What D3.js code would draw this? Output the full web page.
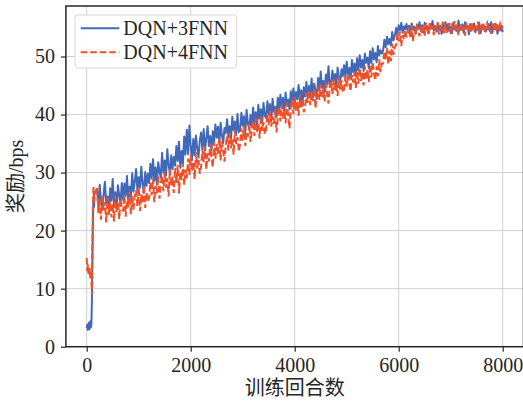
<!DOCTYPE html>
<html>
<head>
<meta charset="utf-8">
<script src="https://cdn.jsdelivr.net/npm/d3@7"></script>
<style>
  body { margin: 0; background: #fff; }
  svg { display: block; }
  text { font-family: "Liberation Serif", "Noto Sans CJK SC", serif; fill: #262626; }
</style>
</head>
<body>
<svg id="chart" width="523" height="401"></svg>
<script>
// --- data ---
const seriesNames = ["DQN+3FNN", "DQN+4FNN"];
const seriesColors = ["#4169b9", "#f24f27"];

// first 150 episodes (fine step)
const earlyEpisodes = [0,10,20,30,40,50,60,70,80,90,100,110,120,130,140,150];
const earlyDqn3 = [3.2,3.8,2.9,3.6,4.1,3.0,3.5,4.4,3.3,3.9,8.0,15.0,22.0,25.5,24.0,26.5];
const earlyDqn4 = [15.3,13.0,14.2,12.6,13.8,12.2,13.5,11.8,12.6,11.5,9.0,18.0,24.0,27.5,25.0,26.0];

// episodes 200..8000, every 25 (one row = 250 episodes)
const mainEpisodes = d3.range(200, 8001, 25);
const dqn3 = [
  26.8,24.1,27.9,25.0,23.6,26.2,28.4,24.8,25.9,23.8,
  27.3,25.2,28.9,24.4,26.6,23.9,27.8,26.1,24.7,28.2,
  25.3,28.1,26.0,29.4,24.9,27.6,25.8,29.9,26.7,28.5,
  30.6,26.9,29.2,27.4,31.0,28.0,26.5,30.1,27.7,29.8,
  28.2,31.5,29.0,32.3,28.6,30.9,27.9,31.8,30.2,29.1,
  33.4,30.0,32.1,29.5,34.0,31.3,29.9,33.0,30.6,32.7,
  31.2,34.6,32.0,35.3,30.8,33.7,31.5,36.2,33.1,37.4,
  33.2,38.1,34.5,32.1,35.8,33.0,36.4,34.2,32.6,35.5,
  36.9,34.0,37.5,33.8,35.9,38.0,34.6,36.3,33.9,37.1,
  35.2,38.3,36.0,37.9,34.8,38.6,36.4,35.1,37.7,36.8,
  39.2,36.1,38.0,35.9,39.6,37.3,38.8,36.5,40.1,37.0,
  37.2,40.3,38.1,39.7,36.9,40.8,38.4,37.6,39.9,38.0,
  41.2,38.5,40.4,38.0,41.7,39.3,40.9,38.6,42.0,39.8,
  39.4,42.3,40.1,41.8,39.0,42.7,40.5,41.3,39.6,42.9,
  40.6,43.4,41.2,42.9,40.3,43.8,41.5,42.6,40.9,44.0,
  42.1,44.5,41.8,43.9,42.6,45.1,42.2,44.2,41.9,44.7,
  43.1,45.6,42.8,44.9,43.5,46.2,43.0,45.3,44.1,42.7,
  46.3,44.1,47.4,44.6,45.8,43.9,46.9,45.2,48.3,44.8,
  45.1,47.6,45.8,47.0,44.9,48.1,46.3,45.5,47.8,46.6,
  48.5,46.4,49.1,46.9,48.0,46.2,49.4,47.3,48.8,46.7,
  49.7,47.6,50.2,48.1,49.4,47.5,50.5,48.9,49.8,48.0,
  50.9,48.9,51.4,49.5,50.6,49.0,51.8,50.2,51.1,50.5,
  51.0,52.9,51.6,53.4,52.1,53.0,51.9,54.2,52.8,53.6,
  54.9,53.8,55.4,54.5,55.8,54.1,55.2,54.7,55.6,54.3,
  55.3,54.2,55.7,54.6,55.1,53.9,55.5,54.8,55.9,54.4,
  55.4,54.1,55.8,54.7,55.2,54.0,55.6,54.9,56.1,54.5,
  55.0,54.3,55.7,54.6,55.3,53.9,55.5,54.8,55.9,54.2,
  55.6,54.4,55.1,54.0,55.8,54.7,55.2,54.3,56.2,54.9,
  54.6,55.5,54.1,55.9,54.8,55.3,53.8,55.6,54.5,55.1,
  55.7,54.2,55.0,54.6,55.8,54.0,55.4,54.9,55.2,54.3,
  54.8,55.6,54.4,55.9,54.1,55.3,54.7,55.5,53.9,55.2,
  54.5,55.3,54.2
];
const dqn4 = [
  27.6,23.0,25.4,21.9,26.2,23.5,24.9,21.4,25.8,22.7,
  25.1,22.3,24.6,21.6,26.0,23.2,24.8,22.0,25.5,23.9,
  23.3,26.1,22.4,25.2,24.0,26.7,22.8,25.9,23.6,26.3,
  26.9,24.2,27.5,23.4,26.3,24.8,27.9,23.9,26.6,25.0,
  25.6,28.3,26.1,29.0,24.9,27.7,26.4,29.4,25.5,28.1,
  29.5,26.8,30.2,27.4,29.0,25.9,30.6,27.8,29.3,26.5,
  30.8,28.2,31.3,26.4,30.1,28.7,31.6,27.9,30.5,29.0,
  32.4,29.6,33.1,30.2,31.8,28.9,33.5,30.7,32.2,29.8,
  31.0,34.0,31.8,34.6,30.5,33.3,31.9,35.0,32.6,30.9,
  35.2,32.4,34.9,33.0,36.0,32.1,35.4,33.7,31.9,34.8,
  36.4,33.8,36.9,34.2,35.7,33.1,37.2,34.9,36.1,33.6,
  35.0,37.6,35.5,38.1,34.6,37.0,36.2,38.4,35.3,37.3,
  38.9,36.3,39.4,36.8,38.5,35.9,39.8,37.2,38.7,36.6,
  37.5,40.1,38.2,40.6,37.9,39.7,38.4,41.0,36.9,39.5,
  41.3,38.8,41.7,39.3,40.9,38.5,42.0,39.9,37.6,41.2,
  42.5,40.1,43.0,40.6,42.2,39.8,43.4,41.0,42.7,40.4,
  41.3,43.8,42.0,44.2,41.6,43.5,42.3,44.6,41.1,43.9,
  44.8,42.5,45.2,43.0,44.5,42.2,45.6,43.4,41.9,44.9,
  45.7,43.5,46.1,44.0,45.4,43.2,46.5,44.3,45.9,43.8,
  44.3,46.6,44.8,47.0,45.2,44.0,46.8,45.5,47.2,44.6,
  47.5,45.3,48.0,45.8,47.2,45.0,48.3,46.1,47.7,45.6,
  48.6,46.4,49.1,47.0,45.9,48.3,46.6,49.5,47.3,48.8,
  48.8,50.9,49.4,51.5,48.6,51.0,49.2,52.2,50.3,51.6,
  52.0,53.9,52.6,54.3,51.8,53.7,52.9,54.6,53.3,54.0,
  55.0,53.1,55.4,52.6,54.8,53.8,55.6,54.2,53.5,55.2,
  54.1,55.5,53.6,55.8,54.6,53.9,55.9,54.4,55.3,53.7,
  55.4,54.2,55.9,53.8,55.1,54.7,56.0,54.0,55.6,54.3,
  54.5,55.8,53.9,55.3,54.8,56.1,54.2,55.5,53.7,55.2,
  55.7,54.3,55.1,53.6,55.9,54.6,55.4,54.0,55.8,54.9,
  54.2,55.6,54.7,56.0,53.8,55.3,54.5,55.9,54.1,55.4,
  55.8,54.4,55.2,53.9,55.7,54.6,56.0,54.3,55.5,54.8,
  55.6,54.7,55.3
];

const xTicks = [0, 2000, 4000, 6000, 8000];
const yTicks = [0, 10, 20, 30, 40, 50];
const xLabel = "训练回合数";
const yLabel = "奖励/bps";

// --- layout ---
const plot = { left: 65.9, right: 523.5, top: 6, bottom: 346.7 };

const svg = d3.select("#chart");

const x = d3.scaleLinear().domain([-400, 8400]).range([plot.left, plot.right]);
const y = d3.scaleLinear().domain([0, 58.7]).range([plot.bottom, plot.top]);

const toPoints = (eps, vals) => eps.map((e, i) => [e, vals[i]]);
const series = [
  toPoints(earlyEpisodes, earlyDqn3).concat(toPoints(mainEpisodes, dqn3)),
  toPoints(earlyEpisodes, earlyDqn4).concat(toPoints(mainEpisodes, dqn4))
];

svg.append("defs").append("clipPath").attr("id", "clip")
  .append("rect")
  .attr("x", plot.left).attr("y", plot.top)
  .attr("width", plot.right - plot.left).attr("height", plot.bottom - plot.top);

// grid
const grid = svg.append("g").attr("stroke", "#d0d0d0").attr("stroke-width", 1);
grid.selectAll("line.gx").data(xTicks).join("line")
  .attr("x1", d => x(d)).attr("x2", d => x(d))
  .attr("y1", plot.top).attr("y2", plot.bottom);
grid.selectAll("line.gy").data(yTicks).join("line")
  .attr("x1", plot.left).attr("x2", plot.right)
  .attr("y1", d => y(d)).attr("y2", d => y(d));

// lines
const line = d3.line().x(d => x(d[0])).y(d => y(d[1]));
const lines = svg.append("g").attr("clip-path", "url(#clip)").attr("fill", "none");
lines.append("path").datum(series[0])
  .attr("d", line).attr("stroke", seriesColors[0]).attr("stroke-width", 2)
  .attr("stroke-linejoin", "round");
lines.append("path").datum(series[1])
  .attr("d", line).attr("stroke", seriesColors[1]).attr("stroke-width", 2)
  .attr("stroke-dasharray", "6.6,2.9");

// axes
const xAxis = svg.append("g")
  .attr("transform", `translate(0,${plot.bottom})`)
  .call(d3.axisBottom(x).tickValues(xTicks).tickSize(5).tickPadding(6.5).tickFormat(d3.format("d")));
const yAxis = svg.append("g")
  .attr("transform", `translate(${plot.left},0)`)
  .call(d3.axisLeft(y).tickValues(yTicks).tickSize(5).tickPadding(6).tickFormat(d3.format("d")));

[xAxis, yAxis].forEach(a => {
  a.select(".domain").remove();
  a.selectAll(".tick line").attr("stroke", "#262626").attr("stroke-width", 1.2);
  a.selectAll(".tick text").attr("font-size", 20).attr("font-family", "Liberation Serif").attr("fill", "#262626");
});

// spines (right one sits off the picture)
svg.append("rect")
  .attr("x", plot.left).attr("y", plot.top)
  .attr("width", plot.right - plot.left).attr("height", plot.bottom - plot.top)
  .attr("fill", "none").attr("stroke", "#262626").attr("stroke-width", 1.5);

// axis titles
svg.append("text")
  .attr("x", x(4000)).attr("y", 395)
  .attr("text-anchor", "middle").attr("font-size", 20)
  .text(xLabel);
svg.append("text")
  .attr("transform", `translate(23,${(plot.top + plot.bottom) / 2}) rotate(-90)`)
  .attr("text-anchor", "middle").attr("font-size", 20)
  .text(yLabel);

// legend
const legend = svg.append("g").attr("transform", "translate(75,15)");
legend.append("rect")
  .attr("width", 161.7).attr("height", 53).attr("rx", 3)
  .attr("fill", "#fff").attr("fill-opacity", 0.85)
  .attr("stroke", "#d8d8d8").attr("stroke-width", 1);
seriesNames.forEach((name, i) => {
  const ly = 13.3 + i * 24;
  legend.append("line")
    .attr("x1", 5.7).attr("x2", 44.3).attr("y1", ly).attr("y2", ly)
    .attr("stroke", seriesColors[i]).attr("stroke-width", 2)
    .attr("stroke-dasharray", i === 1 ? "6.6,2.9" : null);
  legend.append("text")
    .attr("x", 48.3).attr("y", ly).attr("dy", "0.35em")
    .attr("font-size", 20)
    .text(name);
});
</script>
</body>
</html>
